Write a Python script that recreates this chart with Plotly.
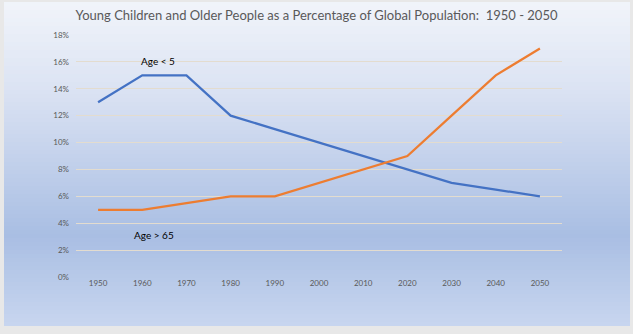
import plotly.graph_objects as go

years = ["1950", "1960", "1970", "1980", "1990", "2000", "2010", "2020", "2030", "2040", "2050"]
age_under_5 = [13, 15, 15, 12, 11, 10, 9, 8, 7, 6.5, 6]
age_over_65 = [5, 5, 5.5, 6, 6, 7, 8, 9, 12, 15, 17]
y_ticks = [0, 2, 4, 6, 8, 10, 12, 14, 16, 18]
y_labels = [f"{v}%" for v in y_ticks]

W, H = 633, 334
L, R, T, B = 76, 562, 35, 277

def px(x):
    return (x - L) / (R - L)

def py(y):
    return (B - y) / (B - T)

def hex2rgb(h):
    h = h.lstrip('#')
    return [int(h[i:i + 2], 16) for i in (0, 2, 4)]

stops = [(2, "#f1f4fa"), (90, "#dbe3f3"), (235, "#a9bee3"), (326, "#c8d6ef")]

def color_at(y):
    for (y0, c0), (y1, c1) in zip(stops, stops[1:]):
        if y0 <= y <= y1:
            t = (y - y0) / (y1 - y0)
            a, b = hex2rgb(c0), hex2rgb(c1)
            return "rgb(%d,%d,%d)" % tuple(round(a[i] + (b[i] - a[i]) * t) for i in range(3))
    return stops[-1][1]

shapes = []
step = 4
for y in range(2, 326, step):
    y2 = min(y + step, 326)
    shapes.append(dict(type="rect", xref="paper", yref="paper", layer="below",
                       x0=px(4), x1=px(630), y0=py(y2), y1=py(y),
                       line=dict(width=0), fillcolor=color_at(y + step / 2)))

fig = go.Figure()
fig.add_trace(go.Scatter(x=years, y=age_under_5, mode="lines", name="Age < 5",
                         line=dict(color="#4472c4", width=2.25)))
fig.add_trace(go.Scatter(x=years, y=age_over_65, mode="lines", name="Age > 65",
                         line=dict(color="#ed7d31", width=2.25)))

i1960 = years.index("1960")
fig.add_annotation(x=i1960, y=16.07, text="Age < 5", showarrow=False,
                   font=dict(family="Lato", size=10, color="#000000"), xshift=16)
fig.add_annotation(x=i1960, y=3.12, text="Age > 65", showarrow=False,
                   font=dict(family="Lato", size=10, color="#000000"), xshift=12)

fig.update_layout(
    width=W, height=H,
    margin=dict(l=L, r=W - R, t=T, b=H - B),
    paper_bgcolor="#e8e8e8",
    plot_bgcolor="rgba(0,0,0,0)",
    showlegend=False,
    shapes=shapes,
    title=dict(text="Young Children and Older People as a Percentage of Global Population:  1950 - 2050",
               x=0.5, xanchor="center", y=1 - 15 / H, yanchor="middle",
               font=dict(family="Lato", size=13, color="#595959")),
    font=dict(family="Lato", size=8, color="#595959"),
)
fig.update_xaxes(type="category", range=[-0.5, 10.5], showgrid=False, showline=False,
                 zeroline=False, ticks="", tickfont=dict(size=8, color="#595959"),
                 fixedrange=True)
fig.update_yaxes(range=[0, 18], tickvals=y_ticks, ticktext=y_labels,
                 showgrid=True, gridcolor="#e3dccf", gridwidth=1, zeroline=False,
                 showline=False, ticks="", ticklabelstandoff=6,
                 tickfont=dict(size=8, color="#595959"))

fig.write_html("out.html")
